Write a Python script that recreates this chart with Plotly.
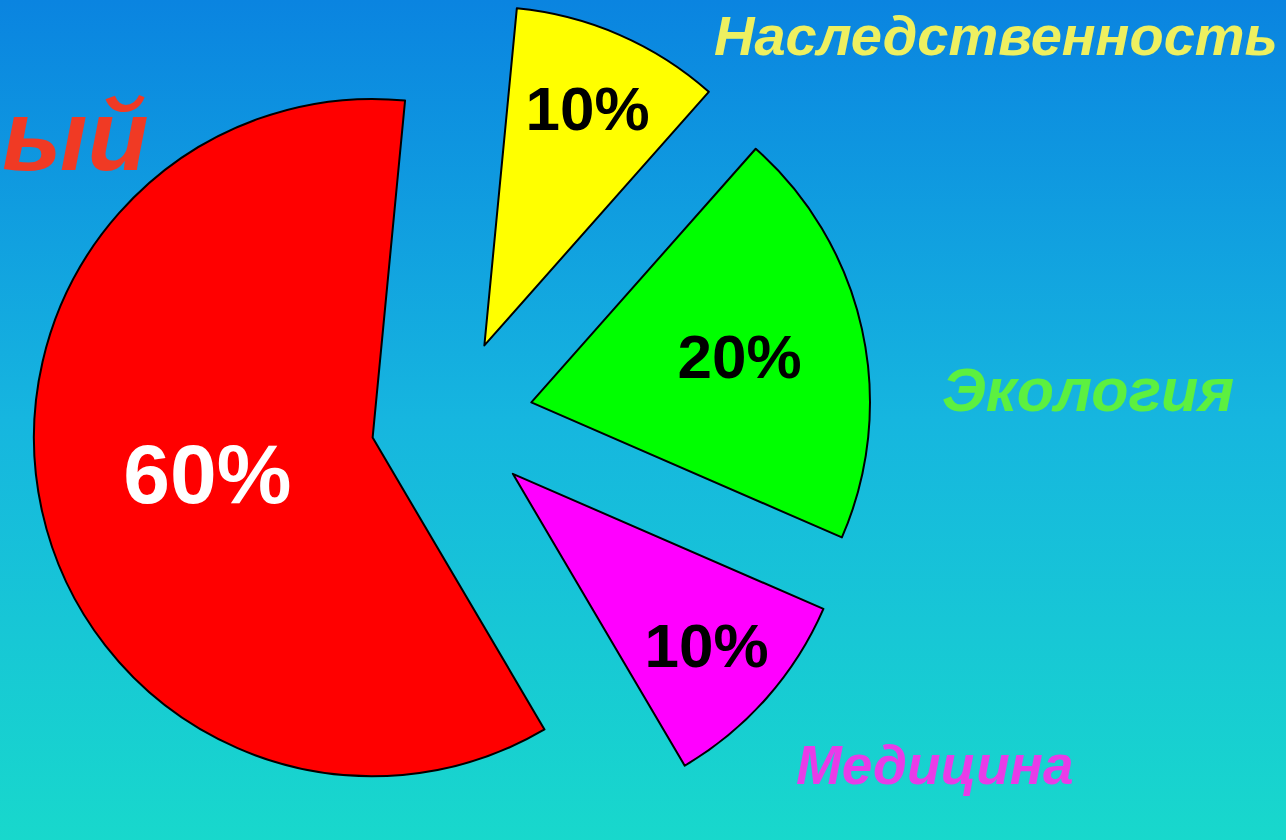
import base64
import plotly.graph_objects as go

# ---- data ----
categories = ["Наследственность", "Экология", "Медицина", "Здоровый образ жизни"]
values = [10, 20, 10, 60]
slice_colors = ["#ffff00", "#00ff00", "#ff00ff", "#ff0000"]
pct_text_colors = ["#000000", "#000000", "#000000", "#ffffff"]
pct_text_sizes = [62, 62, 62, 84]
label_texts = ["Наследственность", "Экология", "Медицина", "ый"]
label_colors = ["#eef060", "#5cf040", "#e83ce8", "#f03a24"]

W, H = 1286, 840

# background gradient (blue -> cyan)
svg = (
    '<svg xmlns="http://www.w3.org/2000/svg" width="100" height="100" preserveAspectRatio="none">'
    '<defs><linearGradient id="g" x1="0" y1="0" x2="0" y2="1">'
    '<stop offset="0" stop-color="#0a84e0"/>'
    '<stop offset="0.5" stop-color="#16b6df"/>'
    '<stop offset="1" stop-color="#18d8cc"/>'
    '</linearGradient></defs>'
    '<rect width="100" height="100" fill="url(#g)"/></svg>'
)
bg_src = "data:image/svg+xml;base64," + base64.b64encode(svg.encode()).decode()

fig = go.Figure(
    go.Pie(
        labels=categories,
        values=values,
        sort=False,
        direction="clockwise",
        rotation=5.5,
        pull=[0.24, 0.24, 0.24, 0.24],
        marker=dict(colors=slice_colors, line=dict(color="#000000", width=2)),
        textinfo="percent",
        textposition="inside",
        insidetextorientation="horizontal",
        insidetextfont=dict(
            family="Liberation Sans, Arial, sans-serif",
            size=pct_text_sizes,
            color=pct_text_colors,
            weight="bold",
        ),
        showlegend=False,
        hoverinfo="label+percent",
        domain=dict(x=[0.0249, 0.678], y=[0, 1]),
    )
)

label_pos = [
    (1280, 36, "right"),
    (1088, 390, "center"),
    (935, 765, "center"),
    (150, 135, "right"),
]
label_sizes = [56, 61, 55, 100]
for txt, col, sz, (px, py, anc) in zip(label_texts, label_colors, label_sizes, label_pos):
    fig.add_annotation(
        text=txt,
        xref="paper", yref="paper",
        x=px / W, y=1 - py / H,
        xanchor=anc, yanchor="middle",
        showarrow=False,
        font=dict(family="Liberation Sans, Arial, sans-serif", size=sz, color=col,
                  weight="bold", style="italic"),
    )

fig.update_layout(
    width=W, height=H,
    margin=dict(l=0, r=0, t=0, b=0),
    paper_bgcolor="#16b6df",
    plot_bgcolor="rgba(0,0,0,0)",
    images=[dict(source=bg_src, xref="paper", yref="paper", x=0, y=1,
                 sizex=1, sizey=1, sizing="stretch", layer="below",
                 xanchor="left", yanchor="top")],
)

fig.write_html(
    "out.html",
    config={"displayModeBar": False},
    post_script="document.body.style.margin='0';document.body.style.overflow='hidden';",
)
